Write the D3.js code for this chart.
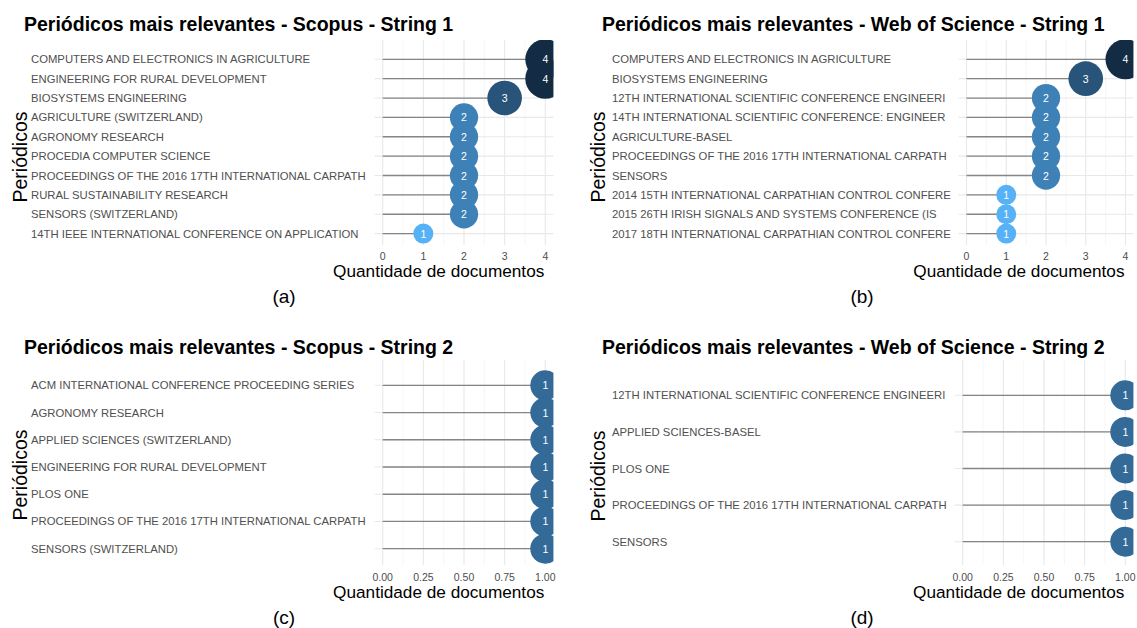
<!DOCTYPE html>
<html>
<head>
<meta charset="utf-8">
<script src="https://d3js.org/d3.v7.min.js"></script>
<title>Periódicos mais relevantes</title>
<style>
  body { margin: 0; background: #fff; }
  text { font-family: "Liberation Sans", Arial, sans-serif; }
</style>
</head>
<body>
<div id="chart"></div>
<script>
// data
const scopus1Labels = ["COMPUTERS AND ELECTRONICS IN AGRICULTURE", "ENGINEERING FOR RURAL DEVELOPMENT",
  "BIOSYSTEMS ENGINEERING", "AGRICULTURE (SWITZERLAND)", "AGRONOMY RESEARCH", "PROCEDIA COMPUTER SCIENCE",
  "PROCEEDINGS OF THE 2016 17TH INTERNATIONAL CARPATH", "RURAL SUSTAINABILITY RESEARCH",
  "SENSORS (SWITZERLAND)", "14TH IEEE INTERNATIONAL CONFERENCE ON APPLICATION"];
const scopus1Values = [4, 4, 3, 2, 2, 2, 2, 2, 2, 1];

const wos1Labels = ["COMPUTERS AND ELECTRONICS IN AGRICULTURE", "BIOSYSTEMS ENGINEERING",
  "12TH INTERNATIONAL SCIENTIFIC CONFERENCE ENGINEERI", "14TH INTERNATIONAL SCIENTIFIC CONFERENCE: ENGINEER",
  "AGRICULTURE-BASEL", "PROCEEDINGS OF THE 2016 17TH INTERNATIONAL CARPATH", "SENSORS",
  "2014 15TH INTERNATIONAL CARPATHIAN CONTROL CONFERE", "2015 26TH IRISH SIGNALS AND SYSTEMS CONFERENCE (IS",
  "2017 18TH INTERNATIONAL CARPATHIAN CONTROL CONFERE"];
const wos1Values = [4, 3, 2, 2, 2, 2, 2, 1, 1, 1];

const scopus2Labels = ["ACM INTERNATIONAL CONFERENCE PROCEEDING SERIES", "AGRONOMY RESEARCH",
  "APPLIED SCIENCES (SWITZERLAND)", "ENGINEERING FOR RURAL DEVELOPMENT", "PLOS ONE",
  "PROCEEDINGS OF THE 2016 17TH INTERNATIONAL CARPATH", "SENSORS (SWITZERLAND)"];
const scopus2Values = [1, 1, 1, 1, 1, 1, 1];

const wos2Labels = ["12TH INTERNATIONAL SCIENTIFIC CONFERENCE ENGINEERI", "APPLIED SCIENCES-BASEL",
  "PLOS ONE", "PROCEEDINGS OF THE 2016 17TH INTERNATIONAL CARPATH", "SENSORS"];
const wos2Values = [1, 1, 1, 1, 1];

const ticksCount = [0, 1, 2, 3, 4];
const ticksFrac = [0, 0.25, 0.5, 0.75, 1];

const panels = [
  { cap: "(a)", title: "Periódicos mais relevantes - Scopus - String 1", labels: scopus1Labels, values: scopus1Values,
    ticks: ticksCount, fmt: d3.format("d"), titleX: 24, titleY: 31, labelX: 31, x0: 382.7, x1: 545.3,
    rowTop: 59.3, rowBottom: 233.6, gridTop: 40, gridBottom: 245, tickY: 256, xTitleY: 277,
    yTitleX: 19.5, yTitleY: 157, capX: 284, capY: 296 },
  { cap: "(b)", title: "Periódicos mais relevantes - Web of Science - String 1", labels: wos1Labels, values: wos1Values,
    ticks: ticksCount, fmt: d3.format("d"), titleX: 602, titleY: 31, labelX: 612, x0: 966.5, x1: 1125.5,
    rowTop: 59.3, rowBottom: 233.6, gridTop: 40, gridBottom: 245, tickY: 256, xTitleY: 277,
    yTitleX: 598, yTitleY: 157, capX: 862, capY: 296 },
  { cap: "(c)", title: "Periódicos mais relevantes - Scopus - String 2", labels: scopus2Labels, values: scopus2Values,
    ticks: ticksFrac, fmt: d3.format(".2f"), titleX: 24, titleY: 354, labelX: 31, x0: 382.7, x1: 545.3,
    rowTop: 385.3, rowBottom: 548.7, gridTop: 360, gridBottom: 565, tickY: 577, xTitleY: 598,
    yTitleX: 19.5, yTitleY: 475, capX: 284, capY: 617 },
  { cap: "(d)", title: "Periódicos mais relevantes - Web of Science - String 2", labels: wos2Labels, values: wos2Values,
    ticks: ticksFrac, fmt: d3.format(".2f"), titleX: 602, titleY: 354, labelX: 612, x0: 962.7, x1: 1125.3,
    rowTop: 395.3, rowBottom: 541.7, gridTop: 360, gridBottom: 565, tickY: 577, xTitleY: 598,
    yTitleX: 598, yTitleY: 476, capX: 862, capY: 617 }
];

const svg = d3.select("#chart").append("svg")
  .attr("width", 1137).attr("height", 628);

panels.forEach((p, i) => {
  const maxV = p.ticks[p.ticks.length - 1];
  const x = d3.scaleLinear().domain([0, maxV]).range([p.x0, p.x1]);
  const pad = (p.x1 - p.x0) * 0.05;
  const left = p.x0 - pad, right = p.x1 + pad;
  const y = d3.scalePoint().domain(p.labels).range([p.rowTop, p.rowBottom]);
  const ext = d3.extent(p.values);
  const r = d3.scaleSqrt().domain(ext).range([10, 20]);
  const color = d3.scaleLinear().domain(ext).range(["#56B1F7", "#132B43"]).interpolate(d3.interpolateLab);

  const g = svg.append("g");

  // title
  g.append("text").attr("x", p.titleX).attr("y", p.titleY)
    .attr("font-size", 19.5).attr("font-weight", "bold").attr("fill", "#000").text(p.title);

  // grid
  const step = p.ticks[1] - p.ticks[0];
  const minor = d3.range(p.ticks.length - 1).map(k => p.ticks[k] + step / 2);
  g.selectAll(".minor").data(minor).enter().append("line")
    .attr("x1", d => x(d)).attr("x2", d => x(d))
    .attr("y1", p.gridTop).attr("y2", p.gridBottom)
    .attr("stroke", "#f0f0f0").attr("stroke-width", 0.6);
  g.selectAll(".major").data(p.ticks).enter().append("line")
    .attr("x1", d => x(d)).attr("x2", d => x(d))
    .attr("y1", p.gridTop).attr("y2", p.gridBottom)
    .attr("stroke", "#e8e8e8").attr("stroke-width", 1.1);
  g.selectAll(".hgrid").data(p.labels).enter().append("line")
    .attr("x1", left).attr("x2", right)
    .attr("y1", d => y(d)).attr("y2", d => y(d))
    .attr("stroke", "#e8e8e8").attr("stroke-width", 1.1);

  // clip for the panel
  const clipId = "clip" + i;
  svg.append("clipPath").attr("id", clipId).append("rect")
    .attr("x", left).attr("y", p.gridTop).attr("width", right - left).attr("height", p.gridBottom - p.gridTop);
  const pg = g.append("g").attr("clip-path", `url(#${clipId})`);

  const rows = p.labels.map((l, k) => ({ label: l, value: p.values[k] }));

  pg.selectAll(".seg").data(rows).enter().append("line")
    .attr("x1", x(0)).attr("x2", d => x(d.value))
    .attr("y1", d => y(d.label)).attr("y2", d => y(d.label))
    .attr("stroke", "#858585").attr("stroke-width", 1.3);

  pg.selectAll(".dot").data(rows).enter().append("circle")
    .attr("cx", d => x(d.value)).attr("cy", d => y(d.label))
    .attr("r", d => r(d.value)).attr("fill", d => color(d.value));

  pg.selectAll(".num").data(rows).enter().append("text")
    .attr("x", d => x(d.value)).attr("y", d => y(d.label))
    .attr("text-anchor", "middle").attr("dominant-baseline", "central")
    .attr("font-size", 10.5).attr("fill", "#fff").text(d => d.value);

  // category labels
  g.selectAll(".lab").data(p.labels).enter().append("text")
    .attr("x", p.labelX).attr("y", d => y(d))
    .attr("dominant-baseline", "central")
    .attr("font-size", 11.3).attr("fill", "#505050").text(d => d);

  // tick labels
  g.selectAll(".tick").data(p.ticks).enter().append("text")
    .attr("x", d => x(d)).attr("y", p.tickY)
    .attr("text-anchor", "middle").attr("dominant-baseline", "central")
    .attr("font-size", 10.5).attr("fill", "#4d4d4d").text(d => p.fmt(d));

  // axis titles
  g.append("text").attr("x", p.x1 - 1).attr("y", p.xTitleY)
    .attr("text-anchor", "end").attr("font-size", 17.2).attr("fill", "#000")
    .text("Quantidade de documentos");
  g.append("text").attr("transform", `translate(${p.yTitleX},${p.yTitleY}) rotate(-90)`)
    .attr("text-anchor", "middle").attr("dominant-baseline", "central")
    .attr("font-size", 19.5).attr("fill", "#000").text("Periódicos");

  // caption
  g.append("text").attr("x", p.capX).attr("y", p.capY)
    .attr("text-anchor", "middle").attr("dominant-baseline", "central")
    .attr("font-size", 19).attr("fill", "#000").text(p.cap);
});
</script>
</body>
</html>
